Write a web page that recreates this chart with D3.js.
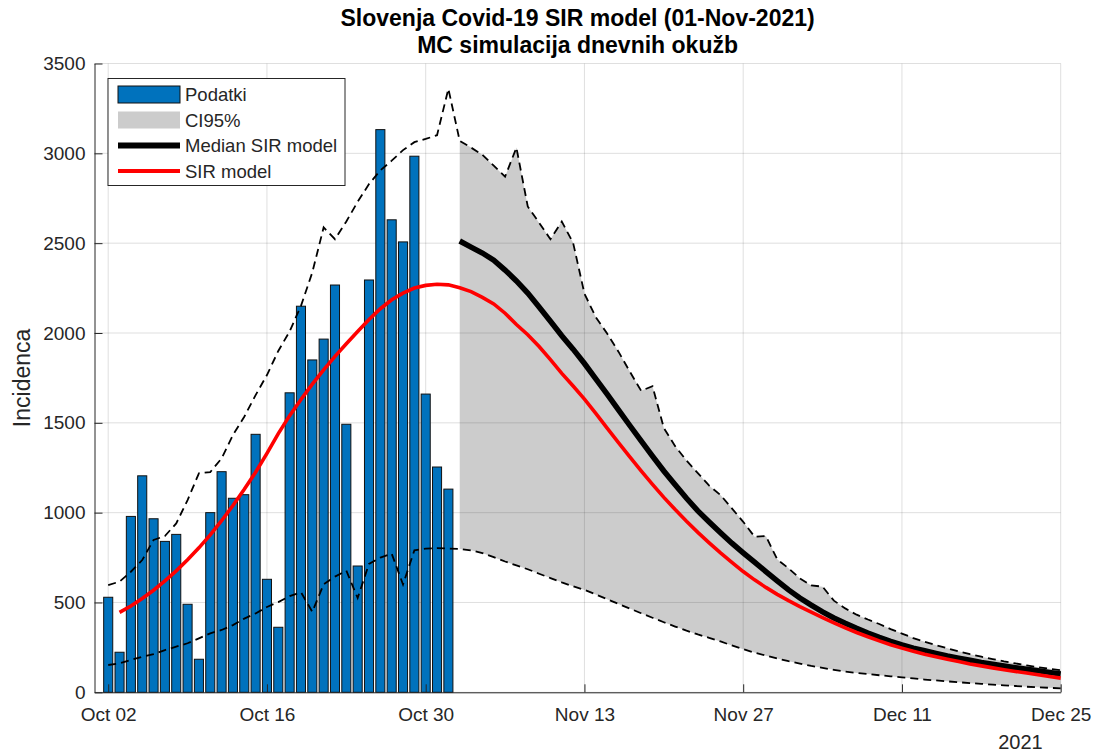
<!DOCTYPE html>
<html>
<head>
<meta charset="utf-8">
<script src="https://cdn.jsdelivr.net/npm/d3@7"></script>
<style>
  body { margin: 0; background: #fff; }
  svg { font-family: "Liberation Sans", Arial, Helvetica, sans-serif; }
</style>
</head>
<body>
<div id="chart"></div>
<script>
// first day of the data (Oct 02 2021)
const startDate = new Date(Date.UTC(2021, 9, 2));
const endDate = new Date(Date.UTC(2021, 11, 25));

const xTickDates = ["2021-10-02", "2021-10-16", "2021-10-30", "2021-11-13", "2021-11-27", "2021-12-11", "2021-12-25"];
const yTicks = [0, 500, 1000, 1500, 2000, 2500, 3000, 3500];

// daily cases, Oct 02 - Nov 01
const cases = [529, 223, 979, 1205, 966, 840, 879, 490, 184, 1000, 1228, 1080, 1100, 1436, 629, 362, 1667,
  2149, 1850, 1966, 2267, 1492, 703, 2295, 3132, 2630, 2507, 2984, 1660, 1254, 1131];

// SIR model, Oct 03 - Dec 25
const sirModel = [445, 480, 522, 568, 620, 676, 738, 804, 876, 955, 1040, 1130, 1225, 1330, 1440, 1540, 1630,
  1715, 1795, 1870, 1940, 2008, 2075, 2135, 2185, 2222, 2250, 2265, 2271,
  2268, 2252, 2230, 2198, 2162, 2110, 2047, 1990, 1925, 1852, 1775, 1705, 1632, 1552, 1470, 1390, 1310, 1232,
  1157, 1085, 1017, 952, 890, 832, 776, 723, 672, 626, 584, 545,
  510, 477, 446, 416, 387, 359, 333, 309, 286, 265, 246, 228, 212, 198, 184, 171, 158, 147, 136, 126, 116, 107,
  98, 88, 79];

// median of MC simulations, Nov 02 - Dec 25
const medianSir = [2512, 2478, 2445, 2405, 2350, 2290, 2222, 2145, 2065, 1985, 1910, 1830, 1745, 1660, 1572,
  1485, 1400, 1315, 1232, 1155, 1080, 1010, 948, 888, 830, 776, 724, 672, 620,
  570, 525, 485, 448, 414, 384, 356, 330, 306, 284, 264, 246, 231, 216, 202, 190, 178, 166, 156, 146, 137, 128,
  120, 111, 102];

// CI95% bounds, Oct 02 - Dec 25
const ciUpper = [597, 616, 671, 736, 848, 870, 940, 1070, 1219, 1226, 1302, 1432, 1534, 1654, 1766, 1900, 2009,
  2151, 2337, 2588, 2522, 2621, 2730, 2829, 2905, 2959, 3018, 3062, 3080, 3101, 3359,
  3069, 3032, 2992, 2931, 2870, 3032, 2704, 2614, 2522, 2620, 2502, 2219, 2088, 1997, 1896, 1785, 1678, 1704,
  1471, 1370, 1290, 1220, 1150, 1098, 1024, 949, 866, 870, 740,
  690, 634, 595, 588, 510, 467, 432, 405, 380, 352, 327, 302, 281, 262, 245, 228, 212, 198, 185, 172, 161, 150,
  140, 131, 123];
const ciLower = [152, 161, 180, 198, 213, 235, 254, 273, 300, 328, 347, 374, 410, 439, 475, 502, 535,
  557, 448, 601, 644, 677, 525, 715, 750, 772, 600, 790, 800, 803, 800,
  798, 790, 775, 752, 728, 706, 685, 660, 636, 612, 590, 570, 545, 518, 492, 466, 440, 415, 390, 366, 343, 322,
  303, 283, 261, 240, 221, 204, 188,
  173, 160, 147, 136, 125, 115, 108, 102, 95, 89, 83, 77, 71, 66, 61, 56, 51, 47, 43, 39, 35, 31, 28, 25, 22];

const w = 1099;
const h = 755;
const margin = { top: 63.5, right: 38.3, bottom: 62.7, left: 94.5 };
const iw = w - margin.left - margin.right;
const ih = h - margin.top - margin.bottom;
const axisColor = "#262626";

const day = i => d3.utcDay.offset(startDate, i);

const x = d3.scaleUtc()
  .domain([d3.utcHour.offset(startDate, -29), endDate])
  .range([0, iw]);
const y = d3.scaleLinear().domain([0, 3500]).range([ih, 0]);

const svg = d3.select("#chart")
  .append("svg")
  .attr("width", w)
  .attr("height", h);

const g = svg.append("g").attr("transform", `translate(${margin.left},${margin.top})`);

// CI95% band for the forecast part
const band = d3.range(31, ciUpper.length).map(i => ({ date: day(i), hi: ciUpper[i], lo: ciLower[i] }));
g.append("path")
  .datum(band)
  .attr("fill", "#cccccc")
  .attr("d", d3.area().x(d => x(d.date)).y0(d => y(d.lo)).y1(d => y(d.hi)));

// grid
const xTicks = xTickDates.map(s => new Date(s + "T00:00:00Z"));
g.append("g")
  .selectAll("line")
  .data(xTicks)
  .enter()
  .append("line")
  .attr("x1", d => x(d)).attr("x2", d => x(d))
  .attr("y1", 0).attr("y2", ih)
  .attr("stroke", "rgba(38,38,38,0.15)");
g.append("g")
  .selectAll("line")
  .data(yTicks)
  .enter()
  .append("line")
  .attr("x1", 0).attr("x2", iw)
  .attr("y1", d => y(d)).attr("y2", d => y(d))
  .attr("stroke", "rgba(38,38,38,0.15)");

// bars
const dayW = x(day(1)) - x(day(0));
const barW = dayW * 0.8;
g.append("g")
  .selectAll("rect")
  .data(cases)
  .enter()
  .append("rect")
  .attr("x", (d, i) => x(day(i)) - barW / 2)
  .attr("y", d => y(d))
  .attr("width", barW)
  .attr("height", d => ih - y(d))
  .attr("fill", "#0072bd")
  .attr("stroke", "#111")
  .attr("stroke-width", 1);

const line = d3.line().x(d => x(d[0])).y(d => y(d[1]));

// median
g.append("path")
  .datum(medianSir.map((v, i) => [day(i + 31), v]))
  .attr("fill", "none")
  .attr("stroke", "#000")
  .attr("stroke-width", 5.5)
  .attr("d", line);

// SIR model
g.append("path")
  .datum(sirModel.map((v, i) => [day(i + 1), v]))
  .attr("fill", "none")
  .attr("stroke", "#ff0000")
  .attr("stroke-width", 3.6)
  .attr("d", line);

// CI bounds dashed
[ciUpper, ciLower].forEach(arr => {
  g.append("path")
    .datum(arr.map((v, i) => [day(i), v]))
    .attr("fill", "none")
    .attr("stroke", "#000")
    .attr("stroke-width", 1.8)
    .attr("stroke-dasharray", "8,5")
    .attr("d", line);
});

// axes
const yAxis = g.append("g")
  .call(d3.axisLeft(y).tickValues(yTicks).tickFormat(d3.format("d"))
    .tickSizeInner(-8).tickSizeOuter(0).tickPadding(9));
const xAxis = g.append("g")
  .attr("transform", `translate(0,${ih})`)
  .call(d3.axisBottom(x).tickValues(xTicks).tickFormat(d3.utcFormat("%b %d"))
    .tickSizeInner(-8).tickSizeOuter(0).tickPadding(15));
[xAxis, yAxis].forEach(a => {
  a.select(".domain").attr("stroke", axisColor);
  a.selectAll(".tick line").attr("stroke", axisColor);
  a.selectAll(".tick text").attr("fill", axisColor).style("font-size", "19px");
});

g.append("text")
  .attr("x", iw)
  .attr("y", ih + 57)
  .attr("text-anchor", "end")
  .attr("fill", axisColor)
  .style("font-size", "20px")
  .attr("dx", -18)
  .text("2021");

// y label
svg.append("text")
  .attr("transform", "rotate(-90)")
  .attr("x", -(margin.top + ih / 2))
  .attr("y", 30)
  .attr("text-anchor", "middle")
  .attr("fill", axisColor)
  .style("font-size", "23px")
  .text("Incidenca");

// title
const title = svg.append("text")
  .attr("text-anchor", "middle")
  .attr("font-weight", "bold")
  .attr("fill", "#000")
  .style("font-size", "23px");
title.append("tspan").attr("x", margin.left + iw / 2).attr("y", 26).text("Slovenja Covid-19 SIR model (01-Nov-2021)");
title.append("tspan").attr("x", margin.left + iw / 2).attr("y", 53).text("MC simulacija dnevnih okužb");

// legend
const legend = svg.append("g").attr("transform", "translate(108,78.5)");
legend.append("rect")
  .attr("width", 237).attr("height", 107)
  .attr("fill", "#fff")
  .attr("stroke", axisColor);
const items = [
  { label: "Podatki", type: "bar" },
  { label: "CI95%", type: "area" },
  { label: "Median SIR model", type: "median" },
  { label: "SIR model", type: "sir" }
];
const rows = legend.selectAll(".item")
  .data(items)
  .enter()
  .append("g")
  .attr("transform", (d, i) => `translate(10,${16 + i * 25.5})`);
rows.each(function(d) {
  const r = d3.select(this);
  if (d.type === "bar") {
    r.append("rect").attr("x", 0).attr("y", -8.5).attr("width", 62).attr("height", 17)
      .attr("fill", "#0072bd").attr("stroke", "#111").attr("stroke-width", 1);
  } else if (d.type === "area") {
    r.append("rect").attr("x", 0).attr("y", -8.5).attr("width", 62).attr("height", 17).attr("fill", "#cccccc");
  } else {
    r.append("line").attr("x1", 0).attr("x2", 62).attr("y1", 0).attr("y2", 0)
      .attr("stroke", d.type === "median" ? "#000" : "#ff0000")
      .attr("stroke-width", d.type === "median" ? 6 : 4);
  }
  r.append("text")
    .attr("x", 67)
    .attr("y", 6.5)
    .attr("fill", axisColor)
    .style("font-size", "18.5px")
    .text(d.label);
});
</script>
</body>
</html>
